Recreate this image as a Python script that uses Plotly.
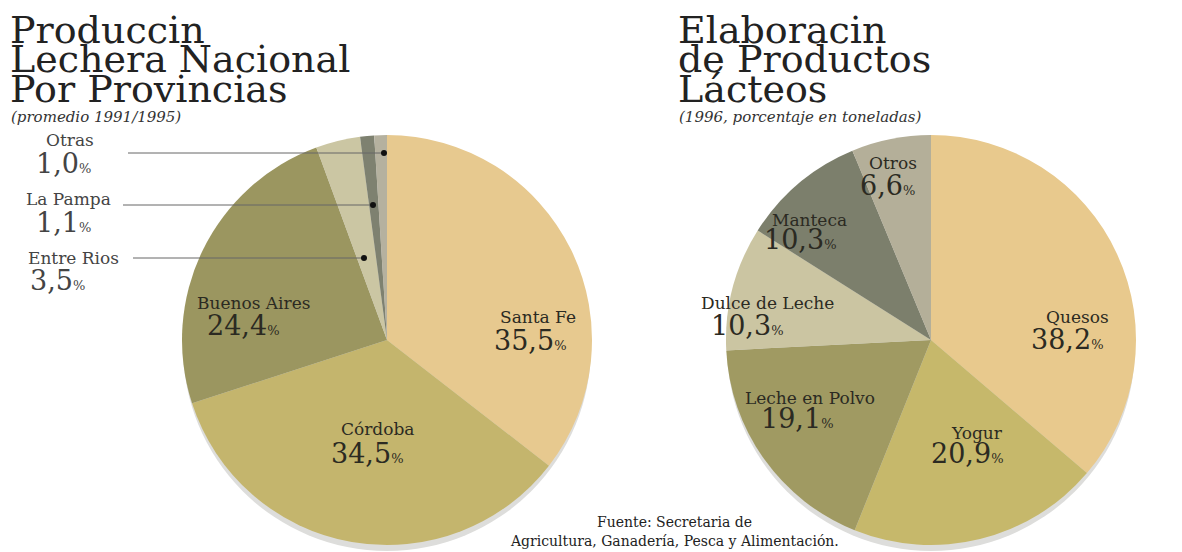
import plotly.graph_objects as go

W, H = 1182, 552

# ---- data ----
prov_labels = ["Santa Fe", "Córdoba", "Buenos Aires", "Entre Rios", "La Pampa", "Otras"]
prov_values = [35.5, 34.5, 24.4, 3.5, 1.1, 1.0]
prov_colors = ["#e7c98f", "#c4b56d", "#9b9660", "#cbc6a3", "#7e8170", "#b5b19f"]

prod_labels = ["Quesos", "Yogur", "Leche en Polvo", "Dulce de Leche", "Manteca", "Otros"]
prod_values = [38.2, 20.9, 19.1, 10.3, 10.3, 6.6]
prod_colors = ["#e8c98d", "#c6b86b", "#a09a62", "#cbc5a2", "#7c7f6c", "#b4af99"]

title_left = ["Produccin", "Lechera Nacional", "Por Provincias"]
sub_left = "(promedio 1991/1995)"
title_right = ["Elaboracin", "de Productos", "Lácteos"]
sub_right = "(1996, porcentaje en toneladas)"
source = ["Fuente: Secretaria de", "Agricultura, Ganadería, Pesca y Alimentación."]

# ---- layout (pixel positions of label centres: name, value) ----
prov_pos = [((538, 317), (530, 340)), ((378, 429), (367, 453)), ((253, 303), (243, 325)),
            ((73, 258), (57, 280)), ((68, 199), (63, 222)), ((70, 140), (63, 163))]
prod_pos = [((1077, 317), (1067, 339)), ((977, 433), (967, 453)), ((810, 398), (797, 418)),
            ((767, 303), (747, 325)), ((810, 220), (800, 240)), ((893, 163), (887, 185))]
# leader lines for the small slices: (index, line y, x start, dot x)
leaders = [(3, 258, 133, 364), (4, 205, 123, 373), (5, 153, 128, 384)]

SERIF = "DejaVu Serif"
TXT = "#2b2a22"


def px(x):
    return x / W


def py(y):
    return 1 - y / H


def fmt(v):
    return f"{v:.1f}".replace(".", ",")


def domain(cx, cy, r):
    return dict(x=[max(0, px(cx - r)), min(1, px(cx + r))],
                y=[max(0, py(cy + r)), min(1, py(cy - r))])


fig = go.Figure()

# shadows under the pies
for cx in (387, 931):
    fig.add_trace(go.Pie(values=[1], marker=dict(colors=["#dddddb"], line=dict(width=0)), textinfo="none",
                         hoverinfo="skip", showlegend=False, sort=False,
                         domain=domain(cx, 347, 204)))

fig.add_trace(go.Pie(
    labels=prov_labels, values=prov_values, sort=False, direction="clockwise", rotation=0,
    marker=dict(colors=prov_colors, line=dict(width=0)), textinfo="none",
    showlegend=False, domain=domain(387, 340, 205)))

fig.add_trace(go.Pie(
    labels=prod_labels, values=prod_values, sort=False, direction="clockwise", rotation=0,
    marker=dict(colors=prod_colors, line=dict(width=0)), textinfo="none",
    showlegend=False, domain=domain(931, 340, 205)))

ann = []
# titles
for i, t in enumerate(title_left):
    ann.append(dict(x=px(8), y=py(30 + 29.5 * i), text=t, xanchor="left", yanchor="middle",
                    font=dict(family=SERIF, size=38, color="#222")))
ann.append(dict(x=px(9), y=py(117), text=f"<i>{sub_left}</i>", xanchor="left", yanchor="middle",
                font=dict(family=SERIF, size=15, color="#333")))
for i, t in enumerate(title_right):
    ann.append(dict(x=px(676), y=py(30 + 29.5 * i), text=t, xanchor="left", yanchor="middle",
                    font=dict(family=SERIF, size=38, color="#222")))
ann.append(dict(x=px(677), y=py(117), text=f"<i>{sub_right}</i>", xanchor="left", yanchor="middle",
                font=dict(family=SERIF, size=15, color="#333")))


def add_labels(labels, values, positions, outside=()):
    for i, (l, v, (p1, p2)) in enumerate(zip(labels, values, positions)):
        col = "#444" if i in outside else TXT
        ann.append(dict(x=px(p1[0]), y=py(p1[1]), text=l, xanchor="center", yanchor="middle",
                        font=dict(family=SERIF, size=17, color=col)))
        ann.append(dict(x=px(p2[0]), y=py(p2[1]),
                        text=f"{fmt(v)}<span style='font-size:13px'>%</span>",
                        xanchor="center", yanchor="middle",
                        font=dict(family=SERIF, size=27, color=col)))


add_labels(prov_labels, prov_values, prov_pos, outside=(3, 4, 5))
add_labels(prod_labels, prod_values, prod_pos)

shapes = []
for idx, ly, lx0, lx1 in leaders:
    shapes.append(dict(type="line", xref="paper", yref="paper", x0=px(lx0), x1=px(lx1), y0=py(ly), y1=py(ly),
                       line=dict(color="#666", width=1), layer="above"))
    shapes.append(dict(type="circle", xref="paper", yref="paper", x0=px(lx1 - 3), x1=px(lx1 + 3),
                       y0=py(ly + 3), y1=py(ly - 3), fillcolor="#111", line=dict(width=0), layer="above"))

ann.append(dict(x=px(674), y=py(522), text=source[0], xanchor="center", yanchor="middle",
                font=dict(family=SERIF, size=14, color="#222")))
ann.append(dict(x=px(674), y=py(541), text=source[1], xanchor="center", yanchor="middle",
                font=dict(family=SERIF, size=14, color="#222")))

for a in ann:
    a.update(xref="paper", yref="paper", showarrow=False)

fig.update_layout(width=W, height=H, margin=dict(l=0, r=0, t=0, b=0),
                  paper_bgcolor="white", plot_bgcolor="white",
                  annotations=ann, shapes=shapes)

fig.write_html("out.html")
